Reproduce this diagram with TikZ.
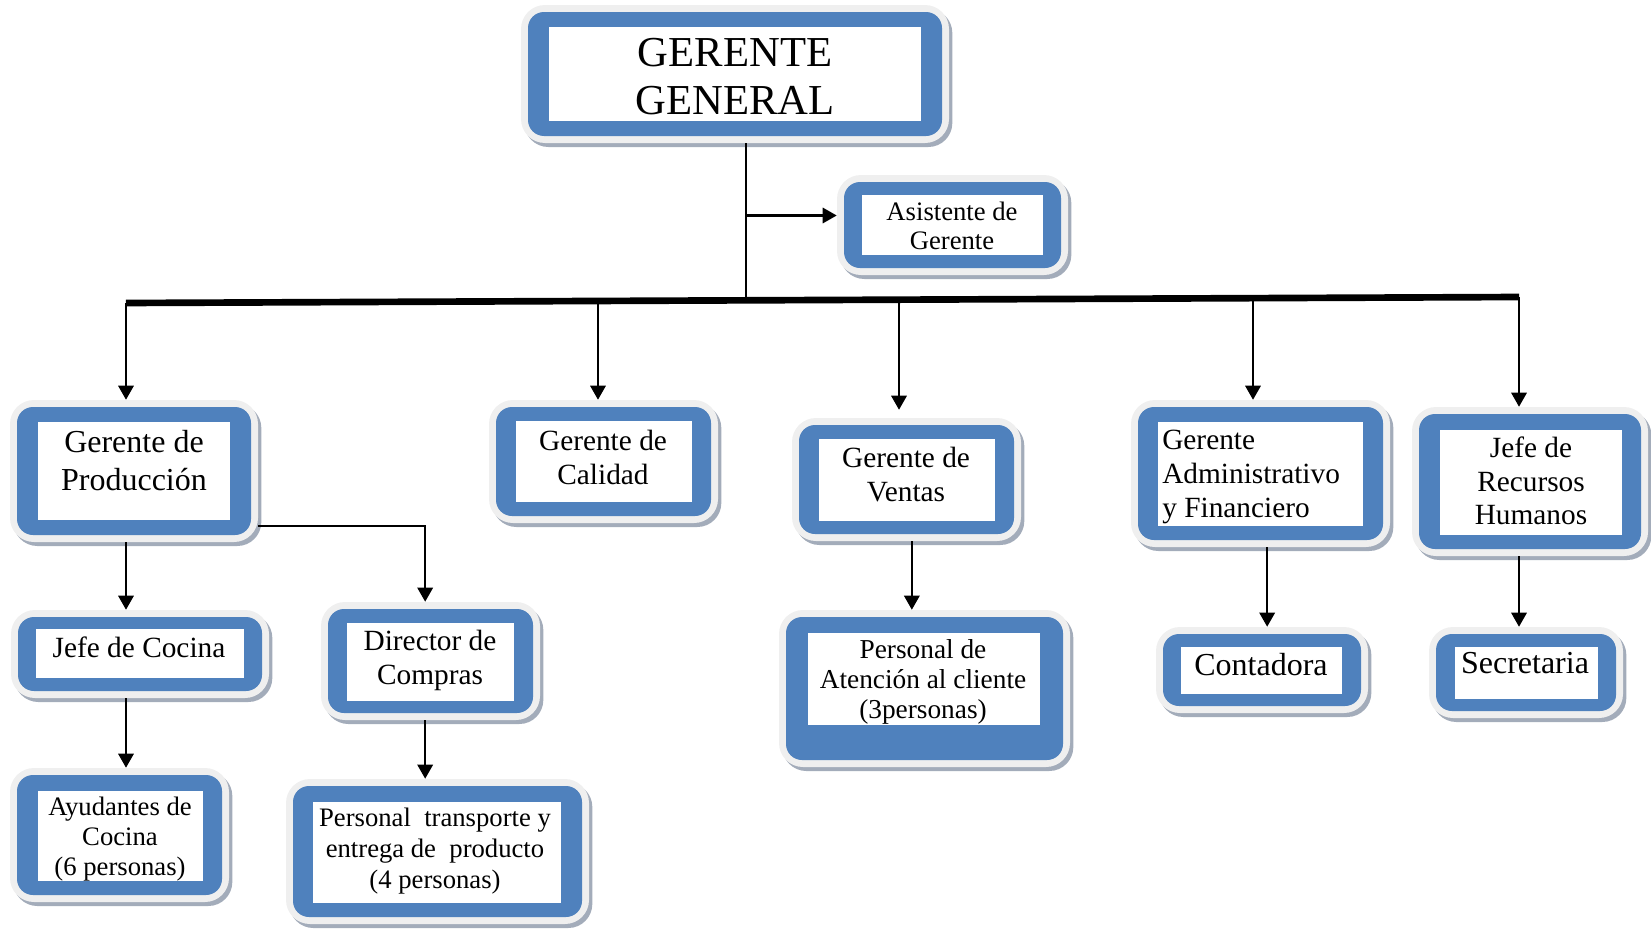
\documentclass[tikz,border=0pt]{standalone}
\usepackage{fontspec}
\setmainfont{Liberation Serif}
\usetikzlibrary{arrows.meta,shadows,fit,calc}
\definecolor{boxblue}{HTML}{4F81BD}
\definecolor{rimc}{HTML}{EFEFEF}
\definecolor{shadc}{HTML}{A3ACBA}
\tikzset{
  rim/.style={fill=rimc, rounded corners=18pt, inner sep=0pt,
    drop shadow={shadow xshift=2.5pt, shadow yshift=-3pt, fill=shadc, opacity=1}},
  txt/.style={align=center, inner sep=0pt},
  arr/.style={line width=1.6pt, -{Triangle[length=10.5pt,width=11.5pt]}},
  ln/.style={line width=1.6pt},
  bar/.style={line width=5pt},
}
\newcommand\orgbox[9]{%
  \node[rim, fit={(#2-7,#3-7) (#4+7,#5+7)}] (#1) {};
  \fill[boxblue, rounded corners=12pt] (#2,#3) rectangle (#4,#5);
  \fill[white] (#6,#7) rectangle (#8,#9);
}
\newcommand\fs[2]{\fontsize{#1}{#2}\selectfont}
\begin{document}
\begin{tikzpicture}[x=0.75pt,y=-0.75pt]
\useasboundingbox (0,0) rectangle (1651,928);
% boxes
\orgbox{gg}{528}{12}{942}{136}{549}{27}{921}{121}
\orgbox{asis}{844}{182}{1061}{268}{862}{195}{1043}{255}
\orgbox{prod}{17}{407}{251}{535}{38}{422}{230}{520}
\orgbox{cal}{496}{407}{711}{516}{516}{421}{692}{502}
\orgbox{ven}{799}{425}{1014}{534}{819}{439}{995}{521}
\orgbox{adm}{1138}{407}{1383}{540}{1158}{422}{1363}{526}
\orgbox{rrhh}{1419}{414}{1641}{549}{1440}{430}{1622}{535}
\orgbox{jc}{18}{617}{262}{691}{36}{629}{244}{678}
\orgbox{dir}{328}{609}{533}{713}{347}{623}{514}{701}
\orgbox{atn}{786}{617}{1063}{760}{808}{633}{1040}{725}
\orgbox{cont}{1163}{634}{1361}{706}{1181}{647}{1342}{694}
\orgbox{sec}{1436}{634}{1616}{711}{1455}{647}{1598}{699}
\orgbox{ayu}{17}{775}{222}{895}{38}{791}{203}{881}
\orgbox{pt}{293}{786}{582}{917}{313}{802}{561}{903}
% texts
\node[txt, font=\fs{32}{36}] (gg-t) at (735,77) {GERENTE\\GENERAL};
\node[txt, font=\fs{20}{22}] (asis-t) at (952,226) {Asistente de\\Gerente};
\node[txt, font=\fs{24}{28.5}] (prod-t) at (134,461) {Gerente de\\Producción};
\node[txt, font=\fs{22}{25.5}] (cal-t) at (603,457) {Gerente de\\Calidad};
\node[txt, font=\fs{22}{25.5}] (ven-t) at (906,475) {Gerente de\\Ventas};
\node[txt, align=left, anchor=west, font=\fs{22}{25.5}] (adm-t) at (1162,477) {Gerente\\Administrativo\\y Financiero};
\node[txt, font=\fs{22}{25.3}] (rrhh-t) at (1531,481) {Jefe de\\Recursos\\Humanos};
\node[txt, font=\fs{22}{25.5}] (jc-t) at (139,647) {Jefe de Cocina};
\node[txt, font=\fs{22}{25.5}] (dir-t) at (430,660) {Director de\\Compras};
\node[txt, font=\fs{20.5}{22.5}] (atn-t) at (923,682) {Personal de\\Atención al cliente\\(3personas)};
\node[txt, font=\fs{24}{28}] (cont-t) at (1261,665) {Contadora};
\node[txt, font=\fs{24}{28}] (sec-t) at (1525,663) {Secretaria};
\node[txt, font=\fs{20}{22.5}] (ayu-t) at (120,839) {Ayudantes de\\Cocina\\(6 personas)};
\node[txt, font=\fs{20}{23}] (pt-t) at (435,851) {Personal\ \ transporte y\\entrega de\ \ producto\\(4 personas)};
% connectors
\coordinate (barL) at (126,303);
\coordinate (barR) at (1519,297);
\coordinate (j) at (746,299.5);
\coordinate (ja) at (746,215.5);
\coordinate (b2) at (598,301);
\coordinate (b3) at (899,299.5);
\coordinate (b4) at (1253,298);
\draw[bar] (barL) -- (barR);
\draw[ln] (j |- gg.south) -- (j);
\draw[arr] (ja) -- (ja -| asis.west);
\draw[arr] (barL) -- (barL |- prod.north);
\draw[arr] (b2) -- (b2 |- cal.north);
\draw[arr, shorten >=6pt] (b3) -- (b3 |- ven.north);
\draw[arr] (b4) -- (b4 |- adm.north);
\draw[arr] (barR) -- (barR |- rrhh.north);
\draw[arr] (barL |- prod.south) -- (barL |- jc.north);
\draw[arr] ([yshift=12pt]prod.south east) -| ([xshift=-4pt]dir.north);
\draw[arr] (barL |- jc.south) -- (barL |- ayu.north);
\coordinate (dx) at ([xshift=-4pt]dir.south);
\draw[arr] (dx) -- (dx |- pt.north);
\coordinate (vx) at ([xshift=4pt]ven.south);
\draw[arr] (vx) -- (vx |- atn.north);
\coordinate (ax) at ([xshift=5pt]adm.south);
\draw[arr] (ax) -- (ax |- cont.north);
\draw[arr] (barR |- rrhh.south) -- (barR |- sec.north);
\end{tikzpicture}
\end{document}
